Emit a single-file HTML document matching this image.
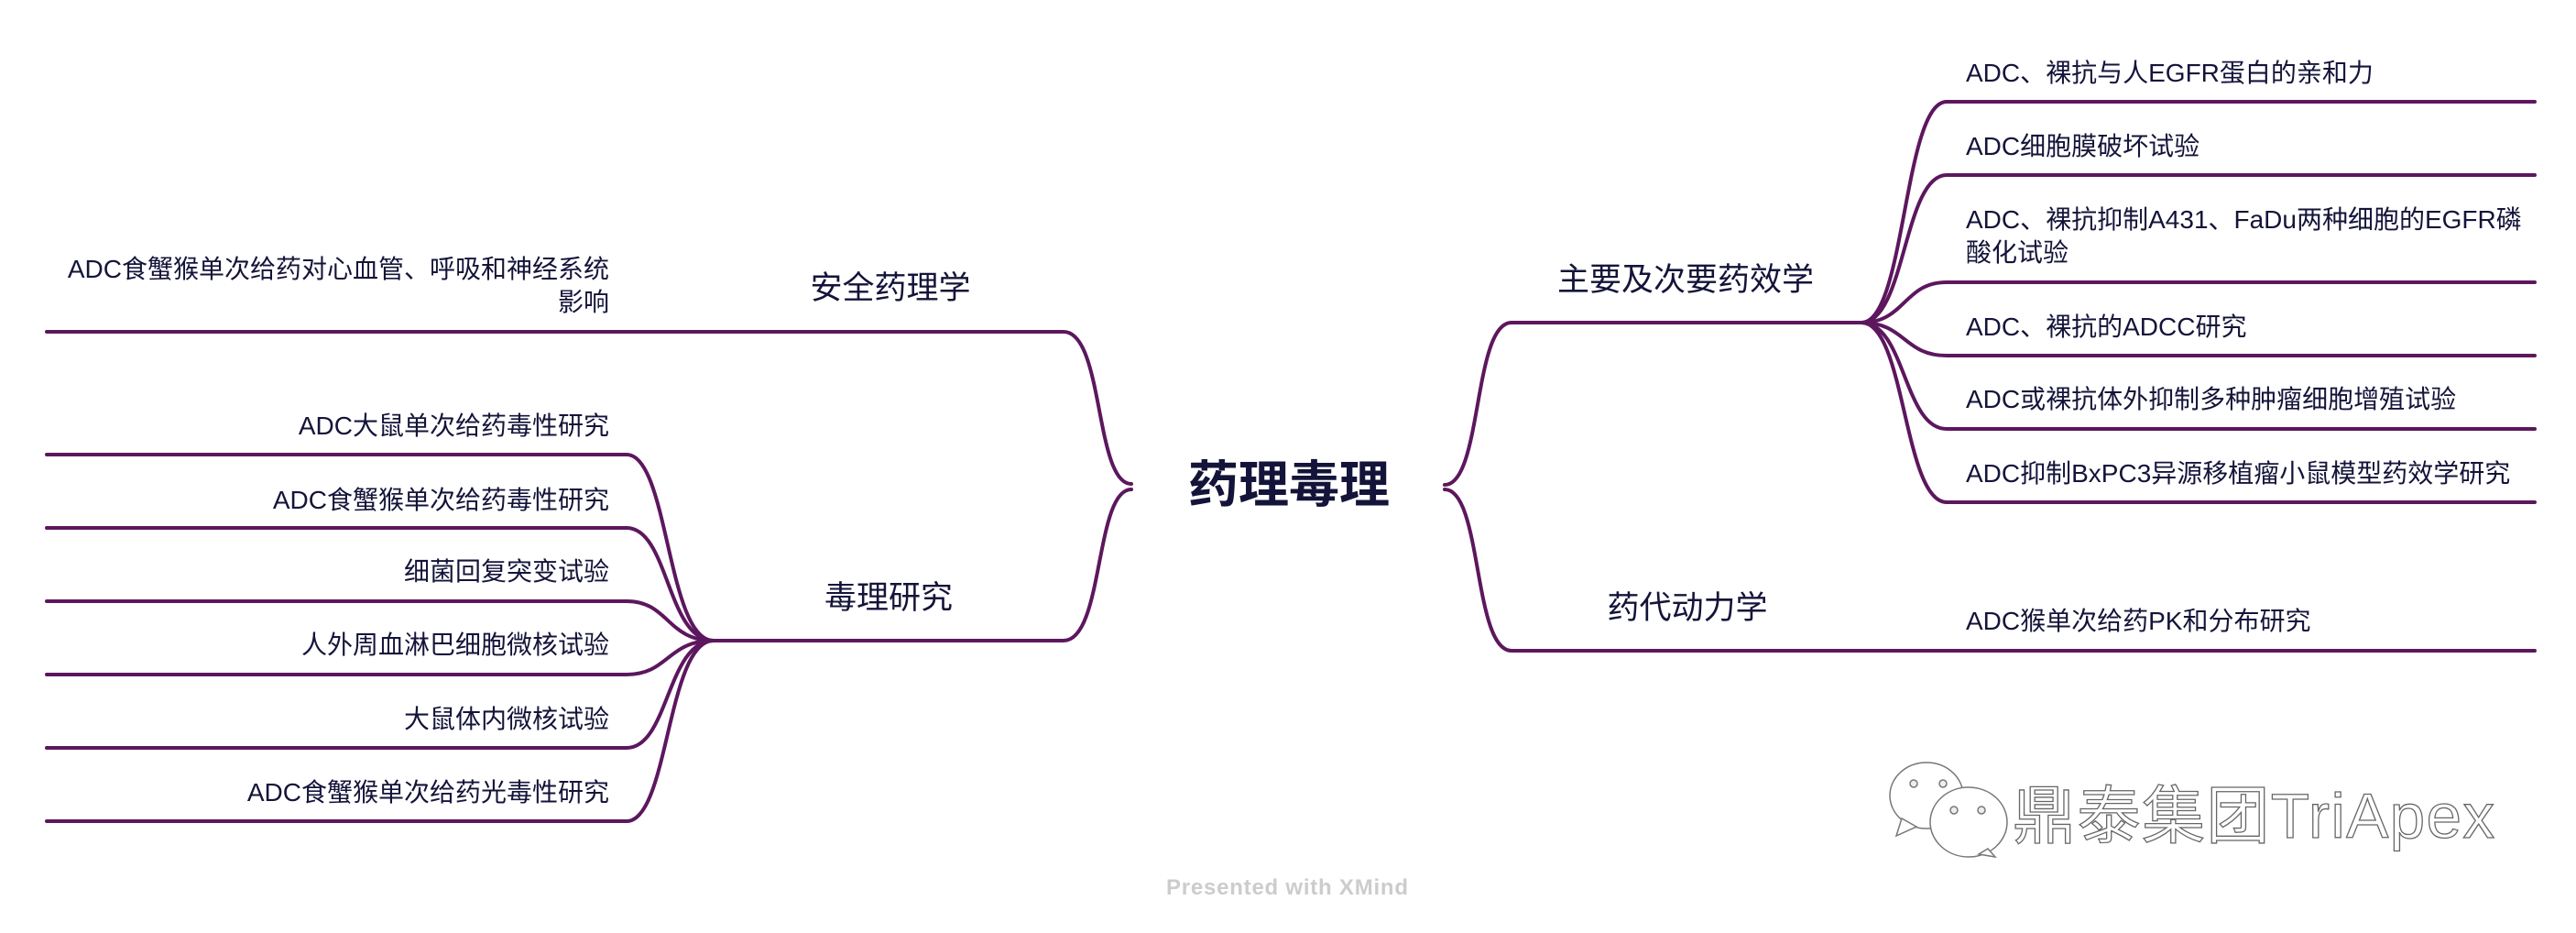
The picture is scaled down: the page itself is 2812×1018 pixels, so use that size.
<!DOCTYPE html>
<html><head><meta charset="utf-8"><style>
html,body{margin:0;padding:0;background:#fff;}
svg{display:block;}
text{font-family:"Liberation Sans","Noto Sans CJK SC",sans-serif;fill:#14143a;}
</style></head><body>
<svg width="2812" height="1018" viewBox="0 0 2812 1018" xmlns="http://www.w3.org/2000/svg">
<g fill="none" stroke="#5c175e" stroke-width="4" stroke-linecap="round">
<path d="M51,362 H1161 C1205,362 1195,528 1235,528"/>
<path d="M779,699 H1161 C1205,699 1195,534 1235,534"/>
<path d="M51,496 H684 C730,496 728,699 779,699"/>
<path d="M51,576 H684 C730,576 728,699 779,699"/>
<path d="M51,656 H684 C730,656 728,699 779,699"/>
<path d="M51,736 H684 C730,736 728,699 779,699"/>
<path d="M51,816 H684 C730,816 728,699 779,699"/>
<path d="M51,896 H684 C730,896 728,699 779,699"/>
<path d="M1577,529 C1618,529 1608,352 1650,352 H2032"/>
<path d="M1577,534 C1618,534 1608,710 1650,710 H2767"/>
<path d="M2032,352 C2080,352 2078,111 2125,111 H2767"/>
<path d="M2032,352 C2080,352 2078,191 2125,191 H2767"/>
<path d="M2032,352 C2080,352 2078,308 2125,308 H2767"/>
<path d="M2032,352 C2080,352 2078,388 2125,388 H2767"/>
<path d="M2032,352 C2080,352 2078,468 2125,468 H2767"/>
<path d="M2032,352 C2080,352 2078,548 2125,548 H2767"/>
</g>

<text x="1407" y="548" font-size="55" text-anchor="middle" font-weight="bold">药理毒理</text>

<g font-size="35" text-anchor="middle">
<text x="972" y="326">安全药理学</text>
<text x="970" y="664">毒理研究</text>
<text x="1840" y="317">主要及次要药效学</text>
<text x="1842" y="675">药代动力学</text>
</g>

<g font-size="28" text-anchor="end">
<text x="665" y="303">ADC食蟹猴单次给药对心血管、呼吸和神经系统</text>
<text x="665" y="339">影响</text>
<text x="665" y="474">ADC大鼠单次给药毒性研究</text>
<text x="665" y="555">ADC食蟹猴单次给药毒性研究</text>
<text x="665" y="633">细菌回复突变试验</text>
<text x="665" y="713">人外周血淋巴细胞微核试验</text>
<text x="665" y="794">大鼠体内微核试验</text>
<text x="665" y="874">ADC食蟹猴单次给药光毒性研究</text>
</g>

<g font-size="28">
<text x="2146" y="89">ADC、裸抗与人EGFR蛋白的亲和力</text>
<text x="2146" y="169">ADC细胞膜破坏试验</text>
<text x="2146" y="249">ADC、裸抗抑制A431、FaDu两种细胞的EGFR磷</text>
<text x="2146" y="285">酸化试验</text>
<text x="2146" y="366">ADC、裸抗的ADCC研究</text>
<text x="2146" y="445">ADC或裸抗体外抑制多种肿瘤细胞增殖试验</text>
<text x="2146" y="526">ADC抑制BxPC3异源移植瘤小鼠模型药效学研究</text>
<text x="2146" y="687">ADC猴单次给药PK和分布研究</text>
</g>

<g fill="#fff" stroke="#777" stroke-width="1.5">
<ellipse cx="2103" cy="868" rx="40" ry="36"/>
<path d="M2076,893 L2070,912 L2092,902 Z"/>
<ellipse cx="2149" cy="897" rx="42" ry="38"/>
<path d="M2170,926 L2178,935 L2160,932 Z"/>
<circle cx="2089" cy="855" r="4" fill="#eee"/>
<circle cx="2121" cy="855" r="4" fill="#eee"/>
<circle cx="2133" cy="884" r="4" fill="#eee"/>
<circle cx="2163" cy="884" r="4" fill="#eee"/>
</g>
<text x="2197" y="914" font-size="69" textLength="526" style="fill:#fff;stroke:#666;stroke-width:1.3">鼎泰集团TriApex</text>

<text x="1405" y="976" font-size="24" font-weight="bold" text-anchor="middle" textLength="264" style="fill:#cccccc">Presented with XMind</text>
</svg>
</body></html>
